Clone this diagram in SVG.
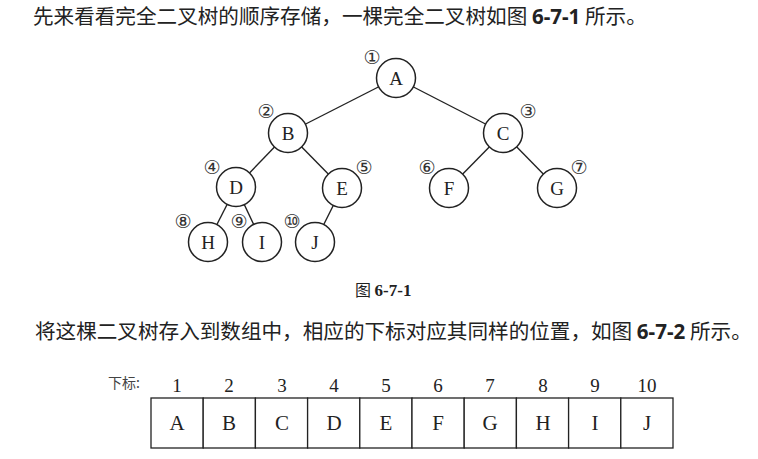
<svg xmlns="http://www.w3.org/2000/svg" width="758" height="459" viewBox="0 0 758 459">
<style>
.cn{font-family:"Noto Sans CJK SC","Noto Sans",sans-serif;font-size:20.6px;fill:#222}
.b{font-family:"Noto Sans","Noto Sans CJK SC",sans-serif;font-weight:bold}
.nd circle{fill:#fff;stroke:#222;stroke-width:1.5}
.lt{font-family:"Liberation Serif","Noto Sans CJK SC",serif;font-size:19px;fill:#222;text-anchor:middle}
.num{font-family:"DejaVu Sans","Noto Sans CJK SC",sans-serif;font-size:19px;fill:#333;text-anchor:middle}
.edges line{stroke:#222;stroke-width:1.4}
.cell{fill:#fff;stroke:#222;stroke-width:1.3}
.idx{font-family:"Liberation Serif",serif;font-size:19px;fill:#222;text-anchor:middle}
</style>
<rect width="758" height="459" fill="#fff"/>
<text class="cn" x="33" y="24">先来看看完全二叉树的顺序存储，一棵完全二叉树如图 <tspan class="b">6-7-1</tspan> 所示。</text>
<g class="edges">
<line x1="396" y1="78" x2="288" y2="133"/>
<line x1="396" y1="78" x2="503" y2="133"/>
<line x1="288" y1="133" x2="236" y2="187"/>
<line x1="288" y1="133" x2="342" y2="188"/>
<line x1="503" y1="133" x2="449" y2="188"/>
<line x1="503" y1="133" x2="557" y2="188"/>
<line x1="236" y1="187" x2="208" y2="242"/>
<line x1="236" y1="187" x2="262" y2="242"/>
<line x1="342" y1="188" x2="315" y2="242"/>
</g>
<g id="nA" class="nd"><circle cx="396" cy="78" r="19.5"/><text class="lt" x="396" y="85">A</text><text class="num" x="372" y="64">①</text></g>
<g id="nB" class="nd"><circle cx="288" cy="133" r="19.5"/><text class="lt" x="288" y="140">B</text><text class="num" x="266" y="118">②</text></g>
<g id="nC" class="nd"><circle cx="503" cy="133" r="19.5"/><text class="lt" x="503" y="140">C</text><text class="num" x="528" y="118">③</text></g>
<g id="nD" class="nd"><circle cx="236" cy="187" r="19.5"/><text class="lt" x="236" y="194">D</text><text class="num" x="212" y="174">④</text></g>
<g id="nE" class="nd"><circle cx="342" cy="188" r="19.5"/><text class="lt" x="342" y="195">E</text><text class="num" x="364" y="174">⑤</text></g>
<g id="nF" class="nd"><circle cx="449" cy="188" r="19.5"/><text class="lt" x="449" y="195">F</text><text class="num" x="427" y="174">⑥</text></g>
<g id="nG" class="nd"><circle cx="557" cy="188" r="19.5"/><text class="lt" x="557" y="195">G</text><text class="num" x="579" y="174">⑦</text></g>
<g id="nH" class="nd"><circle cx="208" cy="242" r="19.5"/><text class="lt" x="208" y="249">H</text><text class="num" x="183" y="228">⑧</text></g>
<g id="nI" class="nd"><circle cx="262" cy="242" r="19.5"/><text class="lt" x="262" y="249">I</text><text class="num" x="239" y="228">⑨</text></g>
<g id="nJ" class="nd"><circle cx="315" cy="242" r="19.5"/><text class="lt" x="315" y="249">J</text><text class="num" x="292" y="228">⑩</text></g>
<text x="355" y="296" style="font-family:'Noto Sans CJK SC',sans-serif;font-size:16px;fill:#222">图 <tspan style="font-family:'Liberation Serif',serif;font-weight:bold;font-size:17px">6-7-1</tspan></text>
<text class="cn" x="35" y="339">将这棵二叉树存入到数组中，相应的下标对应其同样的位置，如图 <tspan class="b">6-7-2</tspan> 所示。</text>
<g id="array">
<text x="108" y="388" style="font-family:'Noto Sans CJK SC',sans-serif;font-size:14px;fill:#444">下标:</text>
<rect class="cell" x="151" y="398" width="52.2" height="50"/>
<rect class="cell" x="203.2" y="398" width="52.2" height="50"/>
<rect class="cell" x="255.4" y="398" width="52.2" height="50"/>
<rect class="cell" x="307.6" y="398" width="52.2" height="50"/>
<rect class="cell" x="359.8" y="398" width="52.2" height="50"/>
<rect class="cell" x="412" y="398" width="52.2" height="50"/>
<rect class="cell" x="464.2" y="398" width="52.2" height="50"/>
<rect class="cell" x="516.4" y="398" width="52.2" height="50"/>
<rect class="cell" x="568.6" y="398" width="52.2" height="50"/>
<rect class="cell" x="620.8" y="398" width="52.2" height="50"/>
<text class="idx" x="177" y="392">1</text>
<text class="idx" x="229" y="392">2</text>
<text class="idx" x="282" y="392">3</text>
<text class="idx" x="334" y="392">4</text>
<text class="idx" x="386" y="392">5</text>
<text class="idx" x="438" y="392">6</text>
<text class="idx" x="490" y="392">7</text>
<text class="idx" x="543" y="392">8</text>
<text class="idx" x="595" y="392">9</text>
<text class="idx" x="647" y="392">10</text>
<text class="idx" x="177" y="430" style="font-size:21px">A</text>
<text class="idx" x="229" y="430" style="font-size:21px">B</text>
<text class="idx" x="282" y="430" style="font-size:21px">C</text>
<text class="idx" x="334" y="430" style="font-size:21px">D</text>
<text class="idx" x="386" y="430" style="font-size:21px">E</text>
<text class="idx" x="438" y="430" style="font-size:21px">F</text>
<text class="idx" x="490" y="430" style="font-size:21px">G</text>
<text class="idx" x="543" y="430" style="font-size:21px">H</text>
<text class="idx" x="595" y="430" style="font-size:21px">I</text>
<text class="idx" x="647" y="430" style="font-size:21px">J</text>
</g>
</svg>
